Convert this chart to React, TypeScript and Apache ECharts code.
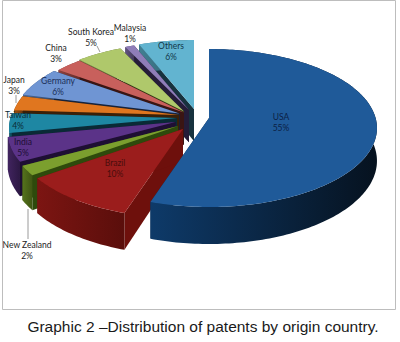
import React, { useEffect, useRef } from "react";
import * as echarts from "echarts";

// Clockwise from the 12 o'clock edge
const categories = ["USA", "Brazil", "New Zealand", "India", "Taiwan", "Japan", "Germany", "China", "South Korea", "Malaysia", "Others"];
const shares = [55, 10, 2, 5, 4, 3, 6, 3, 5, 1, 6];

const topColors = ["#1F5A99", "#9B1D1C", "#7B9F2E", "#5B3388", "#1E87A3", "#E0761F", "#6F95D3", "#C8605C", "#AFC86B", "#8F7DB8", "#62B4D0"];
const wallFrom = ["#0E3A69", "#7C1512", "#55731C", "#41245F", "#125E72", "#9C5012", "#4C6A98", "#8E413E", "#7C8F49", "#625480", "#417F92"];
const wallTo = ["#06121F", "#5A0E0B", "#3E5513", "#2C1843", "#0C4350", "#6E380D", "#34496B", "#652D2B", "#566434", "#43395A", "#2C5866"];
const cutColors = ["#0B2A4C", "#6E100C", "#2E4A0C", "#1E0F33", "#0A2A36", "#3A2008", "#16233C", "#3A1513", "#2F3A14", "#251C38", "#17323E"];
const labelColors = ["#0B1F45", "#4A0D0C", "#222222", "#1B0E35", "#0B2B36", "#222222", "#1B2F58", "#222222", "#222222", "#222222", "#12384A"];

// Explosion of each slice, px
const explodeX = [0, -26, -31, -33.5, -32, -30, -29.5, -25, -25, -20, -15];
const explodeY = [0, 11, 8, 4, 0, -3, -4.5, -5.5, -6.5, -8, -9];

// Label centres (first line), px
const labelX = [281, 115, 27, 23, 18, 14, 58, 56, 91, 130, 171];
const labelY = [117, 163, 245, 142, 115, 80, 81, 48, 32, 28, 46];

// Leader lines [x1, y1, x2, y2]
const leaders = [
  [28, 209, 28, 239],
  [16, 95, 16, 103],
  [97, 46, 100, 52],
];

const apexX = 209;
const apexY = 118;
const radiusX = 166.6;
const radiusY = 77.7;
const tilt = 0.127;
const depth = 32.3;
const total = shares.reduce((a, b) => a + b, 0);

function project(angle: number, r: number) {
  const c = Math.cos(angle) * r;
  const s = Math.sin(angle) * r;
  const w = 1 - tilt * s;
  return { x: apexX + (radiusX * c) / w, y: apexY + (radiusY * s) / w, d: depth / w };
}

function renderSlice(params: any) {
  const i = categories.length - 1 - params.dataIndex;
  let before = 0;
  for (let k = 0; k < i; k++) before += shares[k];
  const a0 = -Math.PI / 2 + (before / total) * 2 * Math.PI;
  const a1 = a0 + (shares[i] / total) * 2 * Math.PI;
  const steps = Math.max(4, Math.ceil((a1 - a0) / 0.02));
  const ox = explodeX[i];
  const oy = explodeY[i];
  const arc: any[] = [];
  for (let n = 0; n <= steps; n++) arc.push(project(a0 + ((a1 - a0) * n) / steps, 1));
  const c = project(0, 0);
  const top = (p: any) => [p.x + ox, p.y + oy];
  const low = (p: any) => [p.x + ox, p.y + oy + p.d];
  const first = arc[0];
  const last = arc[arc.length - 1];
  const wall = {
    type: "linear",
    x: 0,
    y: 0,
    x2: 1,
    y2: 0,
    colorStops: [
      { offset: 0, color: wallFrom[i] },
      { offset: 1, color: wallTo[i] },
    ],
  };
  const poly = (points: number[][], fill: any) => ({ type: "polygon", shape: { points }, style: { fill } });
  return {
    type: "group",
    children: [
      poly([top(c), top(first), low(first), low(c)], cutColors[i]),
      poly([top(c), top(last), low(last), low(c)], cutColors[i]),
      poly([...arc.map(top), ...arc.slice().reverse().map(low)], wall),
      poly([top(c), ...arc.map(top)], topColors[i]),
    ],
  };
}

export default function App() {
  const ref = useRef<HTMLDivElement>(null);
  useEffect(() => {
    const chart = echarts.init(ref.current!, null, { renderer: "svg" });
    chart.setOption({
      animation: false,
      backgroundColor: "#ffffff",
      title: {
        text: "Graphic 2 –Distribution of patents by origin country.",
        left: 198,
        top: 313,
        textAlign: "center",
        textStyle: { fontFamily: "Liberation Sans", fontSize: 15.5, fontWeight: "normal", color: "#1a1a1a" },
      },
      series: [
        {
          type: "custom",
          coordinateSystem: "none",
          silent: true,
          data: shares.slice().reverse(),
          renderItem: renderSlice,
          z: 2,
        },
      ],
      graphic: [
        {
          type: "rect",
          z: 1,
          shape: { x: 2.5, y: 0.5, width: 393, height: 309 },
          style: { fill: "none", stroke: "#BDBDBD", lineWidth: 1 },
        },
        ...leaders.map((l) => ({
          type: "line",
          z: 5,
          shape: { x1: l[0], y1: l[1], x2: l[2], y2: l[3] },
          style: { stroke: "#9A9A9A", lineWidth: 1 },
        })),
        ...categories.map((name, i) => ({
          type: "text",
          z: 6,
          x: labelX[i],
          y: labelY[i] - 5,
          style: {
            text: `${name}\n${shares[i]}%`,
            fill: labelColors[i],
            font: '8.5px Lato',
            lineHeight: 10.5,
            align: "center",
            verticalAlign: "top",
          },
        })),
      ],
    });
    return () => chart.dispose();
  }, []);
  return <div ref={ref} style={{ position: "absolute", left: 0, top: 0, width: 400, height: 342 }} />;
}
